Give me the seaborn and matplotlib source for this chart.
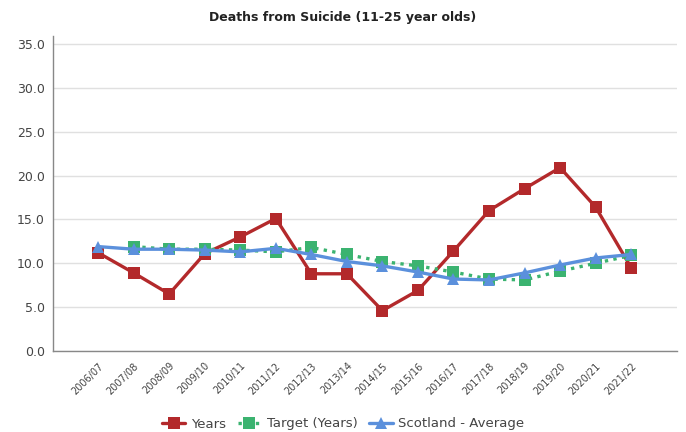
import numpy as np
import pandas as pd
import matplotlib
matplotlib.use('Agg')
import matplotlib.pyplot as plt
import seaborn as sns

# Chart data
years = ['2006/07', '2007/08', '2008/09', '2009/10', '2010/11', '2011/12',
         '2012/13', '2013/14', '2014/15', '2015/16', '2016/17', '2017/18',
         '2018/19', '2019/20', '2020/21', '2021/22']
deaths = [11.2, 8.9, 6.5, 11.1, 13.0, 15.1, 8.8, 8.8, 4.6, 6.9,
          11.4, 16.0, 18.5, 20.9, 16.4, 9.5]
target = [np.nan, 11.9, 11.6, 11.6, 11.5, 11.3, 11.8, 11.0, 10.2, 9.7,
          9.0, 8.2, 8.1, 9.1, 10.0, 10.9]
scotland = [11.9, 11.6, 11.6, 11.5, 11.3, 11.7, 11.0, 10.2, 9.7, 9.0,
            8.2, 8.1, 8.9, 9.8, 10.6, 11.0]

series_names = ['Years', 'Target (Years)', 'Scotland - Average']
colours = ['#b3292b', '#3bb370', '#5b90dc']

# Long-form table for seaborn
data = pd.DataFrame({
    'year': years * 3,
    'value': deaths + target + scotland,
    'series': [s for s in series_names for _ in years],
})

sns.set_style('white')
plt.rcParams['font.family'] = ['DejaVu Sans']

fig = plt.figure(figsize=(6.86, 4.32), dpi=100)
ax = fig.add_axes([53 / 686, 1 - 351 / 432, 624 / 686, 315 / 432])

sns.lineplot(data=data, x='year', y='value', hue='series', style='series',
             hue_order=series_names, style_order=series_names,
             palette=colours, markers=['s', 's', '^'],
             dashes=[(None, None), (1, 1.6), (None, None)],
             linewidth=2.4, markersize=8, markeredgewidth=0,
             sort=False, ax=ax)

ax.set_xlim(-1.27, 16.29)
ax.set_ylim(0, 35.9)
ax.set_yticks(np.arange(0, 36, 5))
ax.set_yticklabels([f'{v:.1f}' for v in np.arange(0, 36, 5)],
                   fontsize=9, color='#444444')
ax.set_xticks(range(len(years)))
ax.set_xticklabels(years, rotation=45, ha='right', rotation_mode='anchor',
                   fontsize=7, color='#444444')
ax.tick_params(axis='both', direction='out', length=3, width=1,
               color='#888888', pad=3)
ax.tick_params(axis='x', pad=4)
ax.yaxis.grid(True, color='#e0e0e0', linewidth=1)
ax.set_axisbelow(True)
for side in ['top', 'right']:
    ax.spines[side].set_visible(False)
for side in ['left', 'bottom']:
    ax.spines[side].set_color('#888888')
    ax.spines[side].set_linewidth(1)
ax.set_xlabel('')
ax.set_ylabel('')

fig.suptitle('Deaths from Suicide (11-25 year olds)', x=0.5, y=1 - 18 / 432,
             va='center', fontsize=9, fontweight='bold', color='#222222')

handles, labels = ax.get_legend_handles_labels()
ax.get_legend().remove()
fig.legend(handles, labels, loc='center', bbox_to_anchor=(0.5, 1 - 424 / 432),
           ncol=3, frameon=False, fontsize=9.5, handlelength=1.8,
           handletextpad=0.4, columnspacing=0.9, labelcolor='#444444')

fig.savefig('out.png', dpi=100)
